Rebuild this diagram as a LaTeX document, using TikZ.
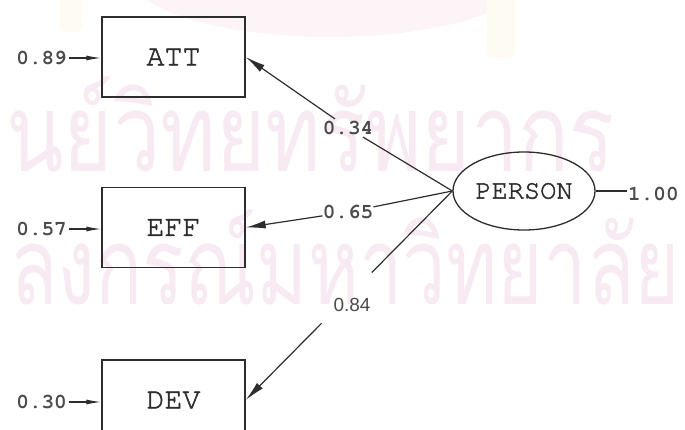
\documentclass[tikz,border=0pt]{standalone}
\usepackage{fontspec}
\setmainfont{Liberation Serif}
\newfontfamily\thaifont[Script=Thai]{Loma}
\newfontfamily\cursorfont{texgyrecursor}[Extension=.otf, UprightFont=*-regular, BoldFont=*-bold]
\newfontfamily\cursormid{texgyrecursor}[Extension=.otf, UprightFont=*-regular, FakeBold=1.6]
\newfontfamily\plainsans{Liberation Sans}
\usetikzlibrary{arrows.meta,shapes.geometric}

\definecolor{ink}{RGB}{45,45,45}
\definecolor{numink}{RGB}{75,75,75}
\definecolor{wmpink}{RGB}{248,234,243}
\definecolor{wmglow}{RGB}{253,244,248}
\definecolor{wmcream}{RGB}{253,251,242}

\tikzset{
  observed/.style={draw=ink, line width=1.4pt, minimum width=143pt, minimum height=80pt,
    inner sep=0pt, text=ink, font=\cursormid\fontsize{30}{30}\selectfont},
  latent/.style={ellipse, draw=ink, line width=1.3pt, minimum width=142pt, minimum height=78pt,
    inner sep=0pt, text=ink, font=\cursormid\fontsize{27}{27}\selectfont},
  coef/.style={font=\cursorfont\bfseries\fontsize{21}{21}\selectfont, text=numink, inner sep=2pt},
  sanscoef/.style={font=\plainsans\fontsize{19}{19}\selectfont, text=numink, inner sep=2pt},
  link/.style={draw=ink, line width=1.2pt},
  loading/.style={link, -{Latex[length=20pt,width=8pt]}},
  errarrow/.style={link, -{Latex[length=15pt,width=5pt]}},
  watermark/.style={text=wmpink, inner sep=0pt, anchor=base west,
    font=\thaifont\fontsize{108}{108}\selectfont}
}

\begin{document}
\begin{tikzpicture}[x=1pt, y=-1pt]
\useasboundingbox (0,0) rectangle (685,430);
\clip (0,0) rectangle (685,430);

% faint background seal and lettering
\fill[wmglow] (330,-25) ellipse (200 and 62);
\fill[wmcream, rounded corners=6pt] (487,-5) rectangle (515,58);
\fill[wmcream, rounded corners=5pt] (60,-5) rectangle (82,32);
\node[watermark] (wm1) at (6,172) {\scalebox{0.78}[1]{นย์วิทยทรัพยากร}};
\node[watermark] (wm2) at (10,305) {\scalebox{0.72}[1]{ลงกรณ์มหาวิทยาลัย}};

% indicators and the latent factor
\node[observed] (att) at (173.5,57) {ATT};
\node[observed] (eff) at (173.5,227.5) {EFF};
\node[observed] (dev) at (173.5,400) {DEV};
\node[latent] (person) at (524,191) {PERSON};

% error variances
\node[coef, anchor=east] (e1) at (69,58) {0.89};
\node[coef, anchor=east] (e2) at (69,229) {0.57};
\node[coef, anchor=east] (e3) at (69,402) {0.30};
\draw[errarrow] (e1.east) -- (e1.east -| att.west);
\draw[errarrow] (e2.east) -- (e2.east -| eff.west);
\draw[errarrow] (e3.east) -- (e3.east -| dev.west);

% loadings
\node[coef] (c34) at (348,128) {0.34};
\node[coef, inner sep=0pt] (c65) at (348,212) {0.65};
\node[sanscoef] (c84) at (352,305) {0.84};
\draw[link] (person.west) -- (c34);
\draw[loading] (c34) -- (att.east);
\draw[link] (person.west) -- (c65);
\draw[loading] (c65) -- (eff.east);
\path (person.west) -- (dev.east) coordinate[pos=0.39] (g1) coordinate[pos=0.633] (g2);
\draw[link] (person.west) -- (g1);
\draw[loading] (g2) -- (dev.east);

% factor variance
\node[coef, anchor=west, inner sep=1pt] (c100) at (627,194) {1.00};
\draw[link] (person.east) -- (c100.west |- person.east);
\end{tikzpicture}
\end{document}
